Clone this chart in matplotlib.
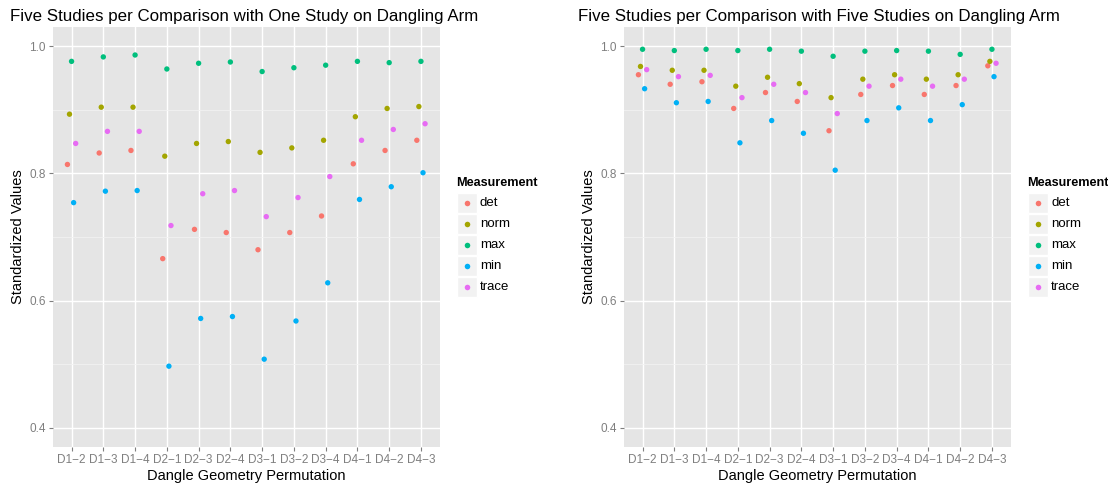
import matplotlib
matplotlib.use("Agg")
import matplotlib.pyplot as plt
import matplotlib.patches as mpatches
from matplotlib.lines import Line2D
import numpy as np

# ── Data ─────────────────────────────────────────────────────────────────
perms = ["D1\u22122", "D1\u22123", "D1\u22124", "D2\u22121", "D2\u22123", "D2\u22124",
         "D3\u22121", "D3\u22122", "D3\u22124", "D4\u22121", "D4\u22122", "D4\u22123"]
measures = ["det", "norm", "max", "min", "trace"]

# one study on dangling arm
one_det = [0.814, 0.832, 0.836, 0.666, 0.712, 0.707, 0.680, 0.707, 0.733, 0.815, 0.836, 0.852]
one_norm = [0.893, 0.904, 0.904, 0.827, 0.847, 0.850, 0.833, 0.840, 0.852, 0.889, 0.902, 0.905]
one_max = [0.976, 0.983, 0.986, 0.964, 0.973, 0.975, 0.960, 0.966, 0.970, 0.976, 0.974, 0.976]
one_min = [0.754, 0.772, 0.773, 0.497, 0.572, 0.575, 0.508, 0.568, 0.628, 0.759, 0.779, 0.801]
one_trace = [0.847, 0.866, 0.866, 0.718, 0.768, 0.773, 0.732, 0.762, 0.795, 0.852, 0.869, 0.878]

# five studies on dangling arm
five_det = [0.955, 0.940, 0.944, 0.902, 0.927, 0.913, 0.867, 0.924, 0.938, 0.924, 0.938, 0.969]
five_norm = [0.968, 0.962, 0.962, 0.937, 0.951, 0.941, 0.919, 0.948, 0.955, 0.948, 0.955, 0.976]
five_max = [0.995, 0.993, 0.995, 0.993, 0.995, 0.992, 0.984, 0.992, 0.993, 0.992, 0.987, 0.995]
five_min = [0.933, 0.911, 0.913, 0.848, 0.883, 0.863, 0.805, 0.883, 0.903, 0.883, 0.908, 0.952]
five_trace = [0.963, 0.952, 0.954, 0.919, 0.940, 0.927, 0.894, 0.937, 0.948, 0.937, 0.948, 0.973]

# ── Theme (old ggplot2 grey) ─────────────────────────────────────────────
PANEL = "#E5E5E5"
MINOR = "#F2F2F2"
GREY50 = "#7F7F7F"
COLORS = ["#F8766D", "#A3A500", "#00BF7D", "#00B0F6", "#E76BF3"]
OFFSETS = [-0.13, -0.065, 0.0, 0.065, 0.13]

plt.rcParams.update({
    "font.family": ["Liberation Sans", "DejaVu Sans"],
    "axes.unicode_minus": True,
})

W, H = 1108, 483
fig = plt.figure(figsize=(W / 100, H / 100), dpi=100)


def px_axes(x0, y0, x1, y1):
    return fig.add_axes([x0 / W, 1 - y1 / H, (x1 - x0) / W, (y1 - y0) / H])


def panel(ax, series):
    ax.set_facecolor(PANEL)
    for s in ax.spines.values():
        s.set_visible(False)
    x = np.arange(1, len(perms) + 1)
    for vals, clr, off in zip(series, COLORS, OFFSETS):
        ax.scatter(x + off, vals, s=15, color=clr, edgecolors="none", zorder=3)
    ax.set_xlim(0.4, len(perms) + 0.6)
    ax.set_ylim(0.37, 1.03)
    ax.set_xticks(x)
    ax.set_xticklabels(perms, fontsize=8.5, color=GREY50)
    ax.set_yticks([0.4, 0.6, 0.8, 1.0])
    ax.set_yticklabels(["0.4", "0.6", "0.8", "1.0"], fontsize=8.5, color=GREY50)
    ax.set_yticks([0.5, 0.7, 0.9], minor=True)
    ax.grid(which="major", color="white", linewidth=1.0, zorder=1)
    ax.grid(which="minor", axis="y", color=MINOR, linewidth=0.6, zorder=0)
    ax.set_axisbelow(True)
    ax.tick_params(which="major", length=3, width=0.8, color=GREY50, pad=2)
    ax.tick_params(which="minor", length=0)
    ax.set_xlabel("Dangle Geometry Permutation", fontsize=10.5)
    ax.set_ylabel("Standardized Values", fontsize=10.5)
    ax.xaxis.set_label_coords(0.5, -0.068)
    ax.yaxis.set_label_coords(-0.088, 0.5)
    ax.xaxis.label.set_va("center")
    ax.yaxis.label.set_va("center")


def legend(x0):
    fig.text(x0 / W, 1 - 183 / H, "Measurement", fontsize=9.1, fontweight="bold",
             ha="left", va="center")
    for i, (name, clr) in enumerate(zip(measures, COLORS)):
        cy = 203 + i * 21
        fig.add_artist(mpatches.Rectangle(((x0 + 1) / W, 1 - (cy + 10) / H), 20 / W, 20 / H,
                                          transform=fig.transFigure, facecolor=MINOR,
                                          edgecolor="white", linewidth=1))
        fig.add_artist(Line2D([(x0 + 11) / W], [1 - cy / H], marker="o", markersize=4,
                              color=clr, markeredgewidth=0, transform=fig.transFigure))
        fig.text((x0 + 24) / W, 1 - cy / H, name, fontsize=9.5, ha="left", va="center")


ax1 = px_axes(52.5, 27, 440, 447)
panel(ax1, [one_det, one_norm, one_max, one_min, one_trace])
fig.text(10 / W, 1 - 17 / H, "Five Studies per Comparison with One Study on Dangling Arm",
         fontsize=12.2, ha="left", va="center")
legend(456)

ax2 = px_axes(623.5, 27, 1011, 447)
panel(ax2, [five_det, five_norm, five_max, five_min, five_trace])
fig.text(578 / W, 1 - 17 / H, "Five Studies per Comparison with Five Studies on Dangling Arm",
         fontsize=12.2, ha="left", va="center")
legend(1027)

fig.savefig("out.png", dpi=100)
